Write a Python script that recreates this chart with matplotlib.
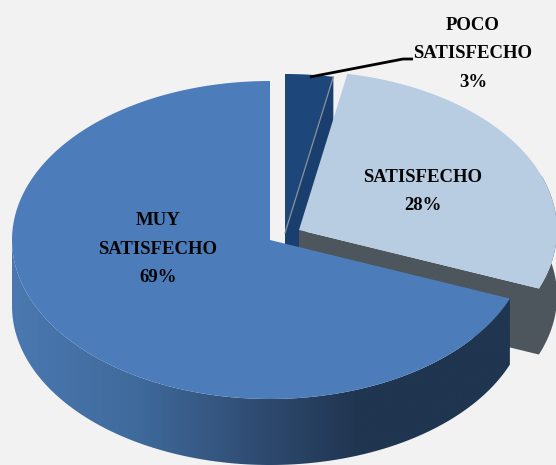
import numpy as np
import matplotlib
matplotlib.use("Agg")
import matplotlib.pyplot as plt
from matplotlib.colors import LinearSegmentedColormap
from matplotlib.patches import Polygon

categories = ["MUY\nSATISFECHO", "SATISFECHO", "POCO\nSATISFECHO"]
percentages = [69, 28, 3]
top_colors = ["#4c7dba", "#b8cce2", "#1d477b"]
centers = [(270, 240), (299, 230), (285, 233)]

RX, RY, DEPTH = 258, 159, 66
BG = "#f2f2f2"

fig = plt.figure(figsize=(5.56, 4.65), dpi=100, facecolor=BG)
ax = fig.add_axes([0, 0, 1, 1])
ax.set_xlim(0, 556)
ax.set_ylim(465, 0)
ax.axis("off")

angles = np.cumsum([0] + [p * 3.6 for p in percentages]) + 90


def point(center, deg):
    t = np.radians(deg)
    return center[0] + RX * np.cos(t), center[1] - RY * np.sin(t)


def arc(center, a0, a1, n=200):
    t = np.radians(np.linspace(a0, a1, n))
    return np.column_stack([center[0] + RX * np.cos(t), center[1] - RY * np.sin(t)])


def down(pts):
    return pts + np.array([0, DEPTH])


def wedge(center, a0, a1):
    return np.vstack([[center], arc(center, a0, a1)])


main_c, sat_c, poco_c = centers

# Poco: cut face and top
edge = np.array([poco_c, point(poco_c, angles[2])])
ax.fill(*np.vstack([edge, down(edge)[::-1]]).T, color="#1a3f6e", lw=0, zorder=1)
ax.fill(*wedge(poco_c, angles[2], angles[3]).T, color=top_colors[2], lw=0, zorder=3)
ax.plot(*edge.T, color="#8a8f96", lw=0.9, zorder=4)

# Satisfecho: cut face and visible outer wall (one outline, so no seam)
a = angles[1]
outer = arc(sat_c, a, 380)
grey = "#4d565c"
ax.fill(*np.vstack([[sat_c], outer, down(outer)[::-1], down(np.array([sat_c]))]).T,
        color=grey, lw=0, zorder=2)

# Satisfecho top
ax.fill(*wedge(sat_c, angles[1], angles[2]).T, color=top_colors[1], lw=0, zorder=5)

# Main wall with horizontal gradient
wall = arc(main_c, 180, angles[1])
wall_poly = Polygon(np.vstack([wall, down(wall)[::-1]]), closed=True,
                    transform=ax.transData, fc="none", ec="none")
ax.add_patch(wall_poly)
cmap = LinearSegmentedColormap.from_list(
    "wall",
    [(0, "#4a78b0"), (0.25, "#3f6a9c"), (0.5, "#2f4b70"), (0.7, "#1f3550"), (1, "#1f3550")],
)
im = ax.imshow(np.linspace(0, 1, 256)[None, :], cmap=cmap, aspect="auto",
               extent=(12, 510, 465, 240), zorder=6)
im.set_clip_path(wall_poly)
ax.set_xlim(0, 556)
ax.set_ylim(465, 0)

# Main top
ax.fill(*wedge(main_c, angles[0], angles[1]).T, color=top_colors[0], lw=0, zorder=7)

# Leader line
ax.plot([310, 403, 413], [77, 59, 59], color="black", lw=2, zorder=8,
        solid_capstyle="butt", solid_joinstyle="round")

# Labels
font = dict(family="Liberation Serif", weight="bold", fontsize=13.5, color="#050505",
            ha="center", va="center", linespacing=1.9, zorder=9)
label_xy = [(158, 249), (423, 191.5), (473, 54)]
for name, pct, (x, y) in zip(categories, percentages, label_xy):
    ax.text(x, y, f"{name}\n{pct}%", **font)

fig.savefig("out.png", dpi=100, facecolor=BG)
